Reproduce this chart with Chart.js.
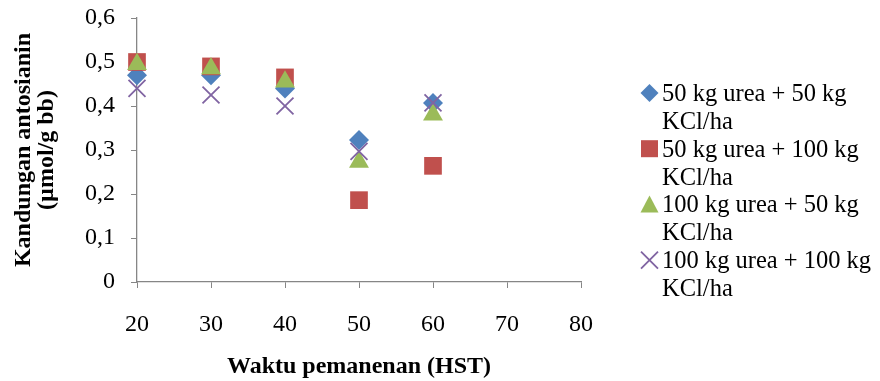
<!DOCTYPE html>
<html>
<head>
<meta charset="utf-8">
<script src="https://cdn.jsdelivr.net/npm/chart.js@4/dist/chart.umd.min.js"></script>
<style>
html,body{margin:0;padding:0;background:#fff;}
#wrap{position:relative;width:880px;height:381px;}
</style>
</head>
<body>
<div id="wrap"><canvas id="c" width="880" height="381"></canvas></div>
<script>
const days = [20, 30, 40, 50, 60];
const seriesNames = [
  ["50 kg urea + 50 kg", "KCl/ha"],
  ["50 kg urea + 100 kg", "KCl/ha"],
  ["100 kg urea + 50 kg", "KCl/ha"],
  ["100 kg urea + 100 kg", "KCl/ha"]
];
const urea50kcl50 = [0.47, 0.47, 0.44, 0.323, 0.407];
const urea50kcl100 = [0.50, 0.49, 0.465, 0.186, 0.264];
const urea100kcl50 = [0.495, 0.485, 0.455, 0.273, 0.38];
const urea100kcl100 = [0.44, 0.425, 0.40, 0.297, 0.407];
const xTitle = "Waktu pemanenan (HST)";
const yTitle = ["Kandungan antosianin", "(µmol/g bb)"];

const colors = ['#4F81BD', '#C0504D', '#9BBB59', '#8064A2'];
const styles = ['rectRot', 'rect', 'triangle', 'crossRot'];
const radii = [10, 12.5, 11.5, 12];
const allValues = [urea50kcl50, urea50kcl100, urea100kcl50, urea100kcl100];
const FONT = "'Liberation Serif', 'Times New Roman', serif";

const datasets = allValues.map((vals, i) => ({
  label: seriesNames[i].join(' '),
  data: days.map((d, j) => ({x: d, y: vals[j]})),
  pointStyle: styles[i],
  pointRadius: radii[i],
  pointHoverRadius: radii[i],
  backgroundColor: colors[i],
  borderColor: colors[i],
  borderWidth: i === 3 ? 1.8 : 0,
  showLine: false,
  clip: false,
  order: 3 - i
}));

const legendPlugin = {
  id: 'wrapLegend',
  afterDraw(chart) {
    const ctx = chart.ctx;
    ctx.save();
    ctx.font = '24.5px ' + FONT;
    ctx.textBaseline = 'alphabetic';
    ctx.textAlign = 'left';
    const tx = 662, mx = 649.5;
    seriesNames.forEach((lines, i) => {
      const base = 101 + i * 55.7;
      ctx.fillStyle = '#000';
      lines.forEach((t, k) => ctx.fillText(t, tx, base + k * 28));
      const cy = base - 8;
      ctx.fillStyle = colors[i];
      ctx.strokeStyle = colors[i];
      ctx.beginPath();
      if (i === 0) {
        ctx.moveTo(mx, cy - 9); ctx.lineTo(mx + 9, cy); ctx.lineTo(mx, cy + 9); ctx.lineTo(mx - 9, cy); ctx.closePath(); ctx.fill();
      } else if (i === 1) {
        ctx.rect(mx - 8.5, cy - 8.5, 17, 17); ctx.fill();
      } else if (i === 2) {
        ctx.moveTo(mx, cy - 9); ctx.lineTo(mx + 9, cy + 8); ctx.lineTo(mx - 9, cy + 8); ctx.closePath(); ctx.fill();
      } else {
        ctx.lineWidth = 1.8;
        ctx.moveTo(mx - 8.5, cy - 8.5); ctx.lineTo(mx + 8.5, cy + 8.5);
        ctx.moveTo(mx + 8.5, cy - 8.5); ctx.lineTo(mx - 8.5, cy + 8.5); ctx.stroke();
      }
    });
    ctx.restore();
  }
};

new Chart(document.getElementById('c'), {
  type: 'scatter',
  data: { datasets },
  options: {
    responsive: false,
    animation: false,
    events: [],
    layout: { padding: { left: 6, right: 299, top: 18, bottom: 0 } },
    plugins: { legend: { display: false }, tooltip: { enabled: false } },
    scales: {
      x: {
        type: 'linear', min: 20, max: 80,
        ticks: { stepSize: 10, color: '#000', font: { family: FONT, size: 24 }, padding: 22, maxRotation: 0 },
        grid: { drawOnChartArea: false, drawTicks: true, tickLength: 6, color: '#868686' },
        border: { color: '#868686', width: 1.3 },
        title: { display: true, text: xTitle, color: '#000', font: { family: FONT, size: 24, weight: 'bold' }, padding: { top: 4, bottom: 0 } },
        afterFit(s) { s.height = 99; }
      },
      y: {
        min: 0, max: 0.6,
        ticks: { stepSize: 0.1, color: '#000', font: { family: FONT, size: 24 }, padding: 16,
          callback: v => v === 0 ? '0' : v.toFixed(1).replace('.', ',') },
        grid: { drawOnChartArea: false, drawTicks: true, tickLength: 6, color: '#868686' },
        border: { color: '#868686', width: 1.3 },
        title: { display: true, text: yTitle, color: '#000', font: { family: FONT, size: 24, weight: 'bold', lineHeight: 0.97 }, padding: { top: 6, bottom: 0 } },
        afterFit(s) { s.width = 131; s.paddingTop = 0; s.paddingBottom = 0; }
      }
    }
  },
  plugins: [legendPlugin]
});
</script>
</body>
</html>
